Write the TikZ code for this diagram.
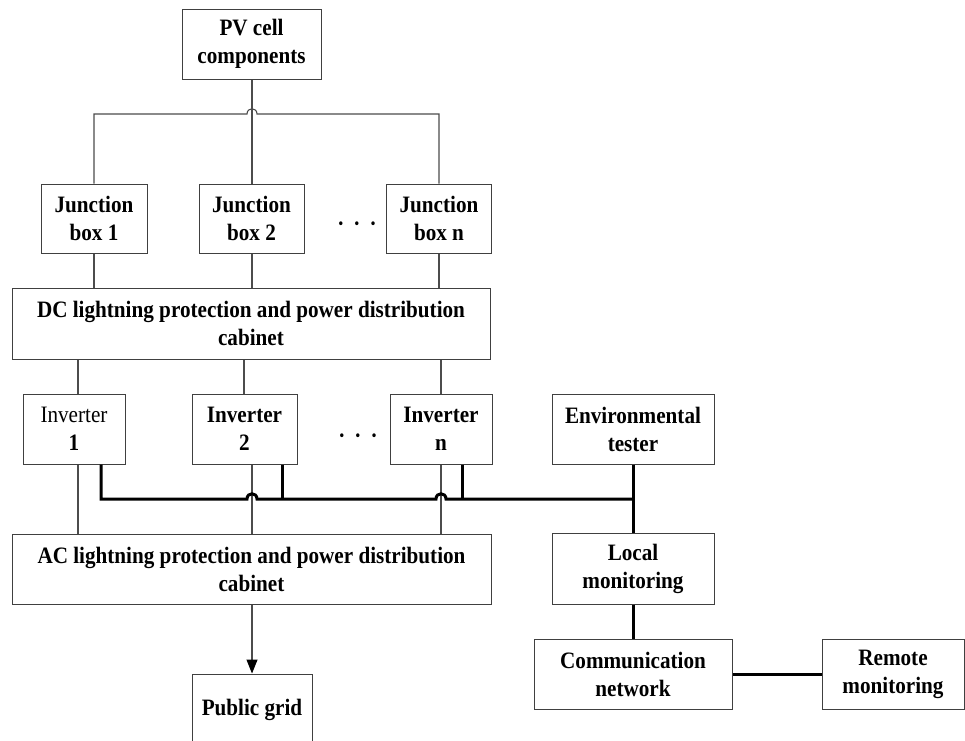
\documentclass[tikz,border=0pt]{standalone}
\usepackage{fontspec}
\setmainfont{Liberation Serif}[FakeStretch=0.9]
\usetikzlibrary{arrows.meta}
\tikzset{
  box/.style={draw=black!75, line width=1pt, fill=white, inner sep=0pt, align=center,
    font=\fontsize{23.5}{28}\selectfont\bfseries},
  thin/.style={draw=black!70, line width=1.1pt},
  thick/.style={draw=black, line width=3pt},
  dotsty/.style={inner sep=0pt, font=\fontsize{23.5}{28}\selectfont\bfseries}
}
\begin{document}
\begin{tikzpicture}[x=1pt,y=-1pt]
\useasboundingbox (0,0) rectangle (965,740);
\clip (0,0) rectangle (965,740);
\fill[white] (0,0) rectangle (965,740);

% nodes
\node[box, minimum width=139pt, minimum height=70pt] (pv) at (251.5,44) {PV cell\\components};
\node[box, minimum width=106pt, minimum height=69pt] (jb1) at (94,218.5) {Junction\\box 1};
\node[box, minimum width=105pt, minimum height=69pt] (jb2) at (251.5,218.5) {Junction\\box 2};
\node[box, minimum width=105pt, minimum height=69pt] (jbn) at (439,218.5) {Junction\\box n};
\node[dotsty] (d1) at (357,227) {·\hspace{9pt}·\hspace{9pt}·};
\node[box, minimum width=478pt, minimum height=71pt] (dc) at (251,323.5) {DC lightning protection and power distribution\\cabinet};
\node[box, minimum width=102pt, minimum height=70pt] (inv1) at (74,429) {{\mdseries Inverter}\\1};
\node[box, minimum width=105pt, minimum height=70pt] (inv2) at (244.5,429) {Inverter\\2};
\node[box, minimum width=102pt, minimum height=70pt] (invn) at (441,429) {Inverter\\n};
\node[dotsty] (d2) at (358,439) {·\hspace{9pt}·\hspace{9pt}·};
\node[box, minimum width=162pt, minimum height=70pt] (env) at (633,429) {Environmental\\tester};
\node[box, minimum width=479pt, minimum height=70pt] (ac) at (251.5,569) {AC lightning protection and power distribution\\cabinet};
\node[box, minimum width=162pt, minimum height=71pt] (loc) at (633,568.5) {Local\\monitoring};
\node[box, minimum width=198pt, minimum height=70pt] (comm) at (633,674) {Communication\\network};
\node[box, minimum width=142pt, minimum height=70pt] (rem) at (893,674) {Remote\\monitoring};
\node[box, minimum width=120pt, minimum height=72pt] (grid) at (252,710) {Public grid};

% PV tree
\draw[thin] (pv.south -| 252,0) -- (jb2.north -| 252,0);
\draw[thin] (jb1.north) -- (94,114) -- (247,114) .. controls (247,107) and (257,107) .. (257,114) -- (439,114) -- (jbn.north -| 439,0);

% junction boxes to DC
\draw[thin] (jb1.south) -- (dc.north -| jb1.south);
\draw[thin] (jb2.south -| 252,0) -- (dc.north -| 252,0);
\draw[thin] (jbn.south -| 439,0) -- (dc.north -| 439,0);

% DC to inverters
\draw[thin] (dc.south -| 78,0) -- (inv1.north -| 78,0);
\draw[thin] (dc.south -| 244,0) -- (inv2.north -| 244,0);
\draw[thin] (dc.south -| 441,0) -- (invn.north -| 441,0);

% inverters to AC
\draw[thin] (inv1.south -| 78,0) -- (ac.north -| 78,0);
\draw[thin] (inv2.south -| 252,0) -- (ac.north -| 252,0);
\draw[thin] (invn.south -| 441,0) -- (ac.north -| 441,0);

% AC to grid
\draw[thin, -{Triangle[length=14pt, width=11pt, color=black]}] (ac.south -| 252,0) -- (grid.north);

% monitoring bus
\draw[thick] (inv1.south -| 101,0) -- (101,499) -- (247,499) .. controls (247,492) and (257,492) .. (257,499)
  -- (436,499) .. controls (436,492) and (446,492) .. (446,499) -- (633,499);
\draw[thick] (inv2.south -| 282,0) -- (282,499);
\draw[thick] (invn.south -| 462,0) -- (462,499);
\draw[thick] (env.south) -- (loc.north);
\draw[thick] (loc.south) -- (comm.north);
\draw[thick] (comm.east) -- (rem.west);
\end{tikzpicture}
\end{document}
